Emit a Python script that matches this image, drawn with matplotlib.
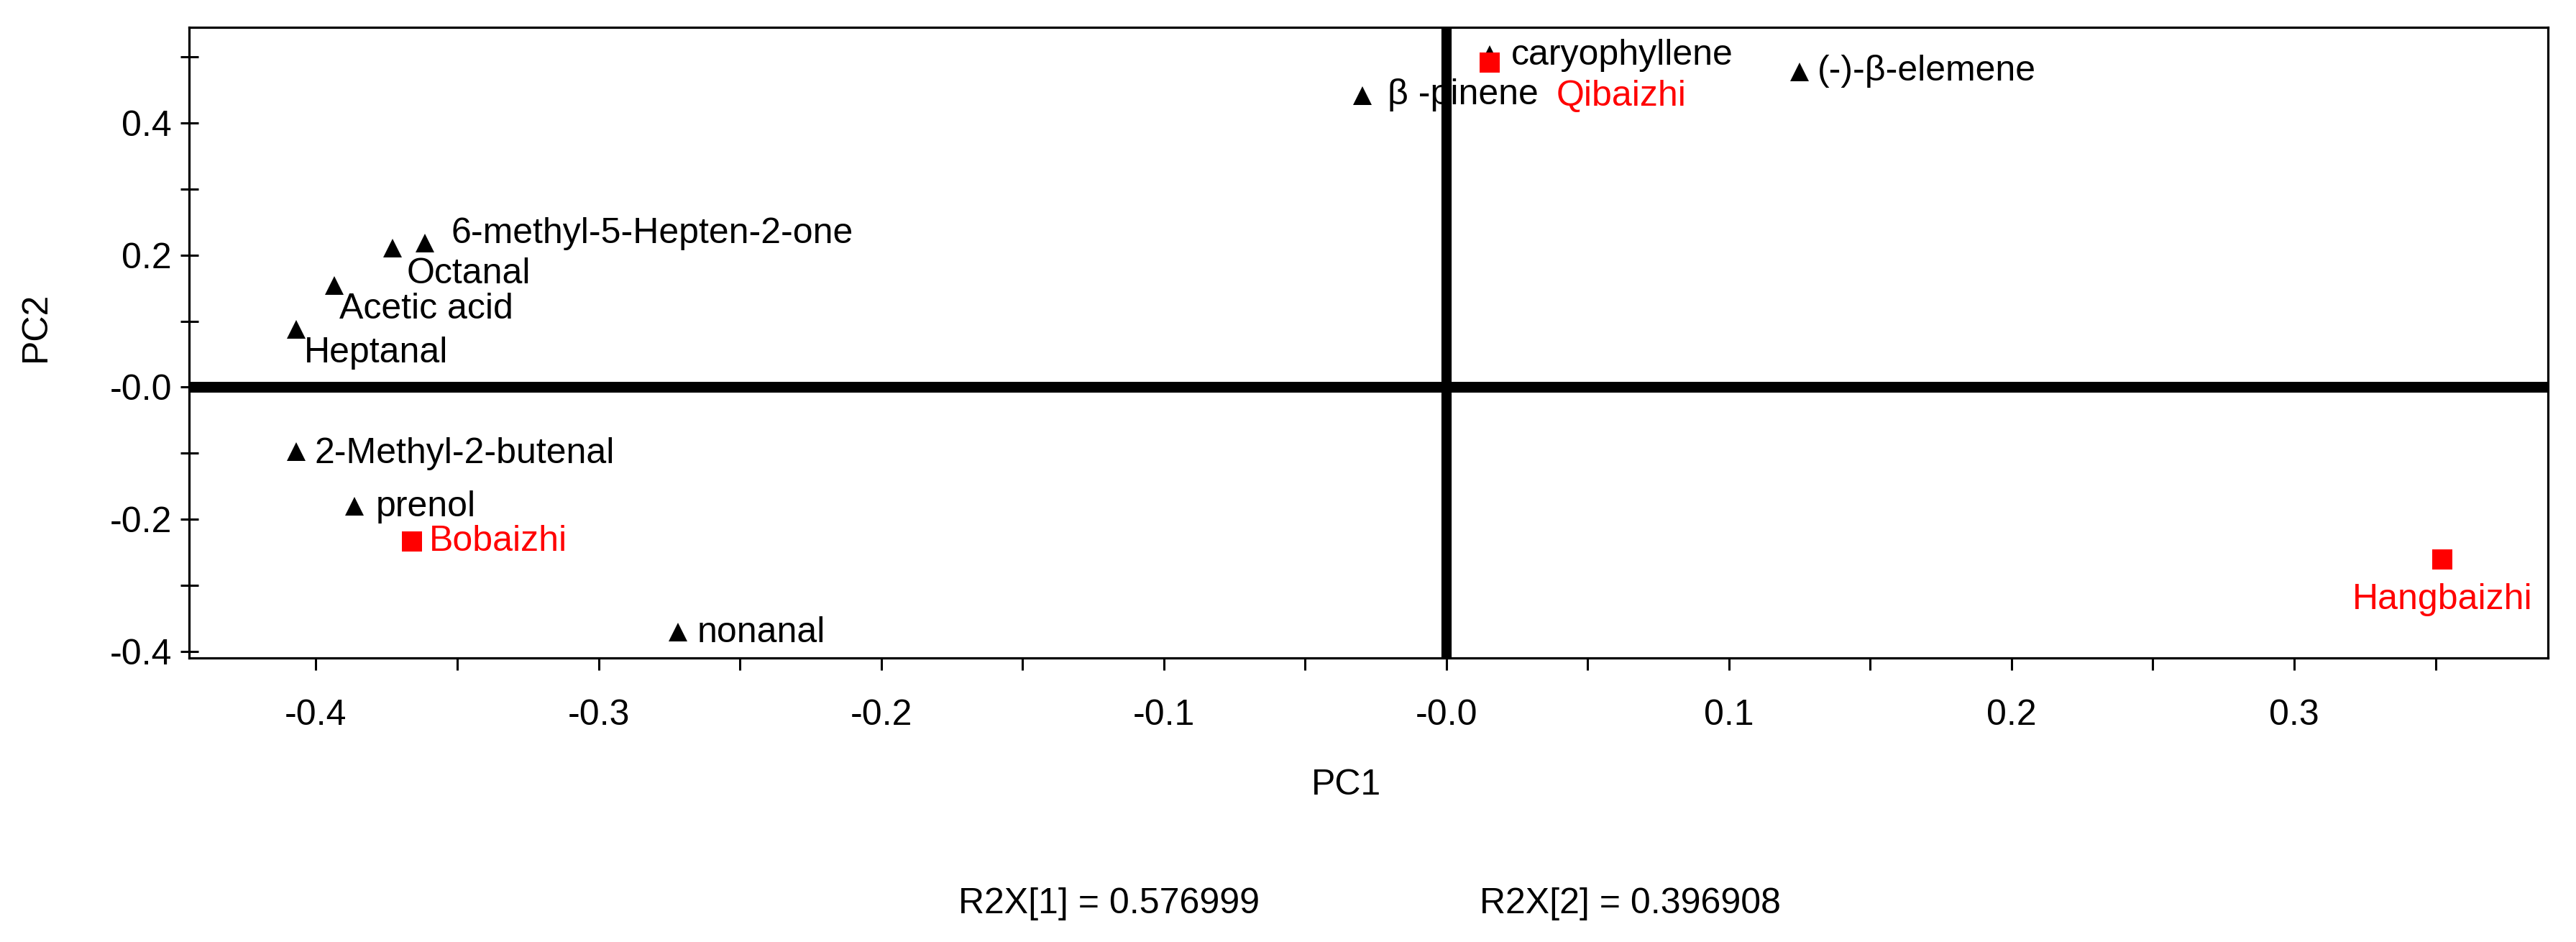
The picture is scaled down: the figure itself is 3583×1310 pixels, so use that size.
import matplotlib
matplotlib.use('Agg')
import matplotlib.pyplot as plt

plt.rcParams['font.family'] = ['Liberation Sans', 'DejaVu Sans']
plt.rcParams['axes.unicode_minus'] = False

# Loadings (compounds)
compounds = ['caryophyllene', 'β -pinene', '(-)-β-elemene', '6-methyl-5-Hepten-2-one',
             'Octanal', 'Acetic acid', 'Heptanal', '2-Methyl-2-butenal', 'prenol', 'nonanal']
comp_pc1 = [0.0152, -0.0297, 0.1249, -0.3614, -0.3728, -0.3934, -0.407, -0.407, -0.3863, -0.272]
comp_pc2 = [0.503, 0.441, 0.477, 0.218, 0.210, 0.154, 0.088, -0.097, -0.180, -0.371]

# Scores (samples)
samples = ['Qibaizhi', 'Bobaizhi', 'Hangbaizhi']
samp_pc1 = [0.0152, -0.366, 0.3525]
samp_pc2 = [0.491, -0.234, -0.261]

# Axis ticks
x_ticks = [-0.4, -0.3, -0.2, -0.1, 0.0, 0.1, 0.2, 0.3]
x_tick_labels = ['-0.4', '-0.3', '-0.2', '-0.1', '-0.0', '0.1', '0.2', '0.3']
x_minor = [-0.35, -0.25, -0.15, -0.05, 0.05, 0.15, 0.25, 0.35]
y_ticks = [0.4, 0.2, 0.0, -0.2, -0.4]
y_tick_labels = ['0.4', '0.2', '-0.0', '-0.2', '-0.4']
y_minor = [0.5, 0.3, 0.1, -0.1, -0.3]

r2x = [0.576999, 0.396908]

# label placement: (dx, dy) in pixels from the marker, text baseline
comp_offsets = {
    'caryophyllene': (30, -14),
    'β -pinene': (35, -12),
    '(-)-β-elemene': (25, -12),
    '6-methyl-5-Hepten-2-one': (36, 0),
    'Octanal': (19, -49),
    'Acetic acid': (7, -46),
    'Heptanal': (11, -46),
    '2-Methyl-2-butenal': (26, -16),
    'prenol': (29, -14),
    'nonanal': (27, -14),
}
samp_offsets = {
    'Qibaizhi': (93, -60, 'left'),
    'Bobaizhi': (24, -13, 'left'),
    'Hangbaizhi': (0, -69, 'center'),
}

W, H = 3583, 1310
fig = plt.figure(figsize=(W / 100, H / 100), dpi=100)
ax = fig.add_axes([263 / W, 1 - 915 / H, (3544 - 263) / W, (915 - 38) / H])

fs = 36
ax.axhline(0, color='black', lw=10.8, zorder=1)
ax.axvline(0, color='black', lw=10.2, zorder=1)

ax.plot(comp_pc1, comp_pc2, '^', color='black', ms=19, mew=0, zorder=3)
ax.plot(samp_pc1, samp_pc2, 's', color='#ff0000', ms=20, mew=0, zorder=4)

for name, x, y in zip(compounds, comp_pc1, comp_pc2):
    dx, dy = comp_offsets[name]
    ax.annotate(name, (x, y), xytext=(dx, dy), textcoords='offset pixels',
                ha='left', va='baseline', fontsize=fs, color='black', zorder=5)

for name, x, y in zip(samples, samp_pc1, samp_pc2):
    dx, dy, ha = samp_offsets[name]
    ax.annotate(name, (x, y), xytext=(dx, dy), textcoords='offset pixels',
                ha=ha, va='baseline', fontsize=fs, color='#ff0000', zorder=5)

ax.set_xlim(-0.4449, 0.3898)
ax.set_ylim(-0.4098, 0.5446)

ax.set_xticks(x_ticks)
ax.set_xticklabels(x_tick_labels)
ax.set_xticks(x_minor, minor=True)
ax.set_yticks(y_ticks)
ax.set_yticklabels(y_tick_labels)
ax.set_yticks(y_minor, minor=True)

ax.tick_params(axis='x', which='both', direction='out', length=12.2, width=2.2,
               pad=29, labelsize=fs)
ax.tick_params(axis='y', which='both', direction='inout', length=18, width=2.2,
               pad=8.3, labelsize=fs)
for s in ax.spines.values():
    s.set_linewidth(2.3)

fig.text(1873 / W, 1 - 1105 / H, 'PC1', ha='center', va='baseline', fontsize=fs)
fig.text(50 / W, 1 - 454 / H, 'PC2', ha='center', va='center', rotation=90, fontsize=fs)
fig.text(1333 / W, 1 - 1270 / H, f'R2X[1] = {r2x[0]:.6f}', ha='left', va='baseline', fontsize=fs)
fig.text(2058 / W, 1 - 1270 / H, f'R2X[2] = {r2x[1]:.6f}', ha='left', va='baseline', fontsize=fs)

fig.savefig('out.png', dpi=100)
